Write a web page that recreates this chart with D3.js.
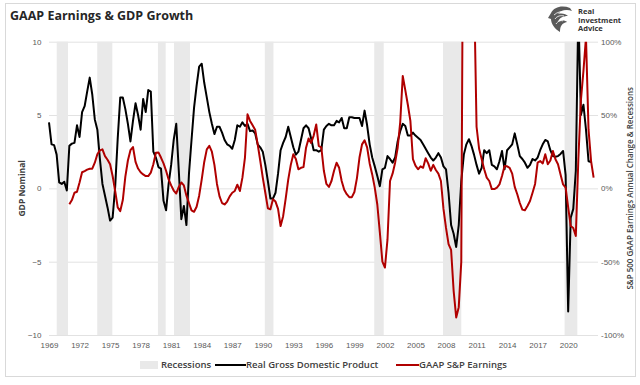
<!DOCTYPE html>
<html>
<head>
<meta charset="utf-8">
<script src="https://cdn.jsdelivr.net/npm/d3@7"></script>
<style>
  body { margin: 0; background: #fff; }
  svg { font-family: "Open Sans", "Noto Sans", sans-serif; }
</style>
</head>
<body>
<svg id="app" width="640" height="385"></svg>
<script>
// quarterly series, first value = 1969 Q1
const START_YEAR = 1969;
const gdpGrowth = [
  4.5, 3.0, 2.95, 2.3, 0.4, 0.3, 0.45, -0.15, 2.9, 3.05, 3.1, 4.3, 3.5, 5.2, 5.6, 6.6,
  7.55, 6.4, 4.7, 4.0, 2.0, 0.3, -0.5, -1.3, -2.2, -2.0, 0.1, 3.4, 6.2, 6.2, 5.4, 4.4,
  3.2, 4.6, 5.8, 5.0, 4.0, 6.1, 5.2, 6.7, 6.6, 2.5, 2.1, 1.45, 1.35, -0.85, -1.5, 0.3,
  1.6, 3.3, 4.4, 1.2, -2.1, -1.2, -2.5, 1.0, 3.3, 5.5, 7.0, 8.3, 8.5, 7.2, 6.2, 5.2,
  4.4, 3.7, 4.2, 4.2, 3.8, 3.3, 3.0, 2.9, 2.7, 3.3, 4.3, 4.2, 4.5, 4.25, 4.4, 3.9,
  3.95, 3.75, 3.0, 2.8, 2.5, 1.6, 0.5, -0.7, -0.7, -0.3, 1.0, 2.6, 3.1, 3.5, 4.2, 3.5,
  2.8, 2.3, 2.5, 3.3, 4.1, 4.3, 4.1, 3.4, 2.6, 2.6, 2.5, 2.6, 4.0, 4.25, 4.4, 4.3,
  4.3, 4.6, 4.5, 4.8, 4.1, 4.1, 4.85, 4.85, 4.8, 4.8, 4.8, 4.25, 5.3, 4.3, 3.0, 2.1,
  1.5, 0.85, 0.15, 1.3, 1.4, 2.2, 2.0, 1.75, 2.1, 3.2, 3.9, 4.4, 4.25, 3.6, 3.6, 3.8,
  3.6, 3.45, 3.3, 3.0, 2.7, 2.4, 2.1, 1.9, 2.1, 2.4, 2.1, 1.5, 1.3, -0.3, -2.5, -3.1,
  -4.0, -2.5, 0.5, 2.3, 3.0, 3.35, 2.9, 2.3, 1.6, 1.0, 1.4, 2.6, 2.4, 2.6, 1.6, 1.5,
  1.3, 1.85, 2.55, 1.3, 2.6, 2.8, 3.0, 3.75, 3.0, 2.2, 2.0, 1.75, 1.4, 1.6, 2.0, 1.9,
  2.1, 2.6, 3.0, 3.3, 3.2, 2.6, 2.2, 2.15, 2.2, 2.35, 2.55, 0.9, -8.4, -2.0, -1.4, 1.2,
  12.2, 5.0, 5.7, 4.0, 1.85, 1.8
];
// earnings start 1971 Q1 (quarter index 8)
const EARNINGS_START = 8;
const earningsGrowth = [
  -10.9, -8.0, -3, -2.3, 4, 11, 11.8, 12.8, 13.4, 13.4, 17.5, 23.2, 25.9, 26.6, 22, 19.5,
  16.4, 8.4, -1.8, -13, -15.5, -8, 8, 19, 26, 28.2, 18, 13.5, 11, 9.5, 8.4, 8.4,
  10.7, 16.4, 24.3, 24.5, 21, 17, 12, 6.1, 2.0, -1.5, -3.5, 1.0, 4.0, 2, -5, -10,
  -15, -16, -12.5, -5, 6, 18, 26.6, 29, 25, 16, 3, -5.5, -10, -11, -9, -5.5,
  -3, -1.8, 2.5, -1.8, 7.3, 21, 50.5, 46, 43, 40, 30, 19, 7.3, -3, -13.6, -14.3,
  -7.5, -9, -14, -25.7, -19, -7, 6, 16, 23.2, 20, 13, 14, 14.5, 27.7, 34, 31,
  36, 43.6, 29, 28, 12, 3, 1, 5, 12, 17.5, 14, 5, -1, -4, -6, -6,
  -2.5, 7, 21, 30, 32.7, 28, 17, 9.5, 0.5, -11, -30, -50, -54, -35, 5, 10,
  17.5, 27.7, 45, 76.6, 67, 57, 46, 20, 15.5, 13, 15, 14, 20.5, 17, 12, 16,
  12.5, 10, 5, -14, -27, -38, -42, -70, -88, -81, -50, 300, 500, 450, 300, 140,
  42, 27, 20, 13, 7.3, 5, -0.5, -0.5, 0.5, 2.7, 8.4, 15.2, 15, 14, 10, 1,
  -4, -10, -14.5, -15, -12, -8.6, -3, 3, 17.5, 18.6, 17, 23.2, 16.4, 19, 25.5, 19.8,
  16.4, 9.5, 2.7, 0.5, -13, -25.7, -27, -32.5, 20, 60, 80, 103, 40, 18.6, 7.3
];
// recessions (decimal years)
const recessionStart = [1969.76, 1973.74, 1979.7, 1981.28, 1990.2, 2000.95, 2007.7, 2019.65];
const recessionEnd   = [1970.87, 1975.22, 1980.46, 1982.85, 1991.05, 2001.88, 2009.5, 2020.9];

const yearTicks = [1969, 1972, 1975, 1978, 1981, 1984, 1987, 1990, 1993, 1996, 1999, 2002, 2005, 2008, 2011, 2014, 2017, 2020];
const gdpTicks = [10, 5, 0, -5, -10];
const earnTicks = [100, 50, 0, -50, -100];

const SVG_WIDTH = 640;
const SVG_HEIGHT = 385;
const PLOT = { LEFT: 49, RIGHT: 598, TOP: 41.7, BOTTOM: 335 };

const svg = d3.select("#app");

// frame
svg.append("rect")
  .attr("x", 5.5).attr("y", 3.5)
  .attr("width", 630).attr("height", 373)
  .attr("fill", "#fff")
  .attr("stroke", "#d9d9d9");

const x = d3.scaleLinear().domain([START_YEAR, 2022.93]).range([PLOT.LEFT, PLOT.RIGHT]);
const yLeft = d3.scaleLinear().domain([-10, 10]).range([PLOT.BOTTOM, PLOT.TOP]);
const yRight = d3.scaleLinear().domain([-100, 100]).range([PLOT.BOTTOM, PLOT.TOP]);

// title
svg.append("text")
  .attr("x", 10).attr("y", 20)
  .attr("font-size", 12.5).attr("font-weight", 700)
  .attr("fill", "#262626")
  .text("GAAP Earnings & GDP Growth");

// logo
const logo = svg.append("g").attr("transform", "translate(548,5)");
logo.append("path")
  .attr("d", "M3 8 C6 2 14 0 22 3 L24 6 C19 4 13 5 10 9 C14 8 18 9 20 11 C15 11 11 13 10 17 C13 15 17 15 19 17 C14 18 12 21 12 27 C7 24 3 19 3 14 L0 13 Z")
  .attr("fill", "#5a5a5a");
logo.append("path")
  .attr("d", "M6 10 C9 7 14 6 18 6 M7 14 C9 11 13 10 16 11 M8 19 C10 16 13 15 15 16")
  .attr("fill", "none").attr("stroke", "#fff").attr("stroke-width", 0.8);
const logoText = svg.append("g")
  .attr("font-size", 7.5).attr("font-weight", 700).attr("fill", "#333");
["Real", "Investment", "Advice"].forEach((t, i) => {
  logoText.append("text").attr("x", 578).attr("y", 14 + i * 8.5).text(t);
});

// gridlines
svg.append("g")
  .attr("transform", `translate(${PLOT.LEFT},0)`)
  .call(d3.axisLeft(yLeft).tickValues(gdpTicks).tickSize(-(PLOT.RIGHT - PLOT.LEFT)).tickFormat(""))
  .call(g => g.select(".domain").remove())
  .call(g => g.selectAll("line").attr("stroke", "#e2e2e2").attr("stroke-width", 1));

// recession bands
svg.append("g")
  .selectAll("rect")
  .data(recessionStart)
  .enter()
  .append("rect")
  .attr("x", d => x(d))
  .attr("y", yRight(100))
  .attr("width", (d, i) => x(recessionEnd[i]) - x(d))
  .attr("height", yRight(-100) - yRight(100))
  .attr("fill", "#e9e9e9");

// clip
svg.append("clipPath").attr("id", "plotClip")
  .append("rect")
  .attr("x", PLOT.LEFT - 2).attr("y", PLOT.TOP)
  .attr("width", PLOT.RIGHT - PLOT.LEFT + 4)
  .attr("height", PLOT.BOTTOM - PLOT.TOP);

const gdpLine = d3.line()
  .x((d, i) => x(START_YEAR + i / 4))
  .y(d => yLeft(d));
const earnLine = d3.line()
  .x((d, i) => x(START_YEAR + (EARNINGS_START + i) / 4))
  .y(d => yRight(d));

const lines = svg.append("g").attr("clip-path", "url(#plotClip)");
lines.append("path")
  .datum(gdpGrowth)
  .attr("d", gdpLine)
  .attr("fill", "none")
  .attr("stroke", "#000")
  .attr("stroke-width", 2)
  .attr("stroke-linejoin", "round");
lines.append("path")
  .datum(earningsGrowth)
  .attr("d", earnLine)
  .attr("fill", "none")
  .attr("stroke", "#b00000")
  .attr("stroke-width", 2)
  .attr("stroke-linejoin", "round");

// axes
const tickStyle = g => {
  g.select(".domain").remove();
  g.selectAll("text").attr("font-size", 8).attr("fill", "#595959").attr("font-family", null);
};
svg.append("g")
  .attr("transform", `translate(${PLOT.LEFT},0)`)
  .call(d3.axisLeft(yLeft).tickValues(gdpTicks).tickSize(0).tickPadding(7.5))
  .call(tickStyle);
svg.append("g")
  .attr("transform", `translate(${PLOT.RIGHT},0)`)
  .call(d3.axisRight(yRight).tickValues(earnTicks).tickSize(0).tickPadding(3).tickFormat(d => d + "%"))
  .call(tickStyle);
svg.append("g")
  .attr("transform", `translate(0,${PLOT.BOTTOM})`)
  .call(d3.axisBottom(x).tickValues(yearTicks).tickSize(0).tickPadding(7).tickFormat(d3.format("d")))
  .call(tickStyle);

// axis titles
const midY = (PLOT.TOP + PLOT.BOTTOM) / 2;
svg.append("text")
  .attr("transform", `translate(22,${midY}) rotate(-90)`)
  .attr("text-anchor", "middle").attr("dy", "0.35em")
  .attr("font-size", 8.5).attr("font-weight", 700).attr("fill", "#404040")
  .text("GDP Nominal");
svg.append("text")
  .attr("transform", `translate(630,${midY}) rotate(-90)`)
  .attr("text-anchor", "middle").attr("dy", "0.35em")
  .attr("font-size", 8).attr("font-weight", 600).attr("fill", "#404040")
  .text("S&P 500 GAAP Earnings Annual Change & Recessions");

// legend
const LEG_Y = 365;
const legend = svg.append("g")
  .attr("font-size", 9.5).attr("font-weight", 600).attr("fill", "#404040");
legend.append("rect").attr("x", 140).attr("y", LEG_Y - 4).attr("width", 18).attr("height", 8).attr("fill", "#e9e9e9");
legend.append("text").attr("x", 161).attr("y", LEG_Y).attr("dy", "0.35em").text("Recessions");
legend.append("line").attr("x1", 215).attr("x2", 246).attr("y1", LEG_Y).attr("y2", LEG_Y)
  .attr("stroke", "#000").attr("stroke-width", 2);
legend.append("text").attr("x", 246).attr("y", LEG_Y).attr("dy", "0.35em").text("Real Gross Domestic Product");
legend.append("line").attr("x1", 396).attr("x2", 419).attr("y1", LEG_Y).attr("y2", LEG_Y)
  .attr("stroke", "#b00000").attr("stroke-width", 2);
legend.append("text").attr("x", 419).attr("y", LEG_Y).attr("dy", "0.35em").text("GAAP S&P Earnings");
</script>
</body>
</html>
